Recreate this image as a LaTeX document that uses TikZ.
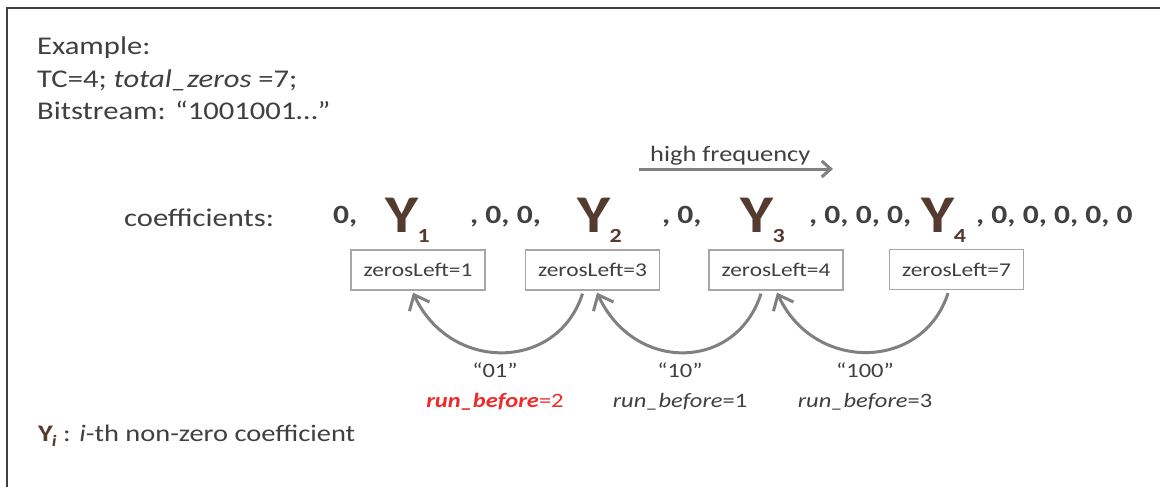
\documentclass[tikz,border=0pt]{standalone}
\usepackage{fontspec}
\setmainfont{Carlito}[FakeStretch=1.2]
\usetikzlibrary{arrows.meta}
\definecolor{txt}{HTML}{404040}
\definecolor{ybrown}{HTML}{553A30}
\definecolor{redc}{HTML}{EE2A2A}
\definecolor{linegray}{HTML}{808080}
\definecolor{boxgray}{HTML}{A6A6A6}
\definecolor{framec}{HTML}{404040}
\newcommand{\ysym}[1]{Y\kern-0.5pt\raisebox{-10pt}{\fontsize{20}{20}\selectfont #1}}
\begin{document}
\begin{tikzpicture}[x=1pt,y=-1pt,
  lbl/.style={anchor=base west, inner sep=0pt, text=txt, font=\fontsize{25.5}{30}\selectfont},
  coef/.style={anchor=base west, inner sep=0pt, text=txt, font=\bfseries\fontsize{26.3}{28}\selectfont},
  ybig/.style={anchor=base west, inner sep=0pt, text=ybrown, font=\bfseries\fontsize{53}{53}\selectfont},
  zbox/.style={draw=boxgray, line width=1.3pt, minimum width=134pt, minimum height=40pt, inner sep=0pt, text=txt, font=\fontsize{19.5}{20}\selectfont},
  arcline/.style={draw=linegray, line width=3pt, -{Straight Barb[length=13pt,width=22pt,line width=3pt]}},
  code/.style={anchor=base, inner sep=0pt, text=txt, font=\fontsize{20.4}{22}\selectfont},
  frameline/.style={draw=framec, line width=1.5pt}]
\useasboundingbox (0,0) rectangle (1160,487);
\fill[white] (0,0) rectangle (1160,487);
\draw[frameline] (7,487) -- (7,8) -- (1160,8);

% header text
\node[lbl] (ex) at (37,55) {Example:};
\node[lbl] (tc) at (37,87.5) {TC=4; \textit{total\_zeros} =7;};
\node[lbl] (bs) at (37,120) {Bitstream: “1001001…”};

% high frequency arrow
\node[anchor=base west, inner sep=0pt, text=txt, font=\fontsize{22}{22}\selectfont] (hf) at (650,161) {high frequency};
\coordinate (hfa) at (639,169);
\coordinate (hfb) at (833,169);
\draw[draw=linegray, line width=3pt, -{Straight Barb[length=9pt,width=16pt,line width=3pt]}] (hfa) -- (hfb);

% coefficients row
\node[lbl] (cl) at (124,226) {coefficients:};
\node[coef] (c0) at (333,223) {0,};
\node[ybig] (y1) at (385,232) {\ysym{1}};
\node[coef] (c1) at (470,223) {, 0, 0,};
\node[ybig] (y2) at (577,232) {\ysym{2}};
\node[coef] (c2) at (662,223) {, 0,};
\node[ybig] (y3) at (740,232) {\ysym{3}};
\node[coef] (c3) at (809,223) {, 0, 0, 0,};
\node[ybig] (y4) at (921,232) {\ysym{4}};
\node[coef] (c4) at (976,223) {, 0, 0, 0, 0, 0};

% zerosLeft boxes
\node[zbox] (b1) at (418,270) {zerosLeft=1};
\node[zbox] (b2) at (592.5,270) {zerosLeft=3};
\node[zbox] (b3) at (776,270) {zerosLeft=4};
\node[zbox] (b4) at (956.5,269.5) {zerosLeft=7};

% arcs
\draw[arcline] ([xshift=-10pt,yshift=-3pt]b2.south) .. controls +(-25,78) and +(37,80) .. ([xshift=-5pt,yshift=-2pt]b1.south);
\draw[arcline] ([xshift=-15pt,yshift=-3pt]b3.south) .. controls +(-25,78) and +(37,80) .. ([xshift=4.5pt,yshift=-2pt]b2.south);
\draw[arcline] ([xshift=-8.5pt,yshift=-3pt]b4.south) .. controls +(-25,78) and +(37,80) .. ([xshift=1pt,yshift=-2pt]b3.south);

% codes
\node[code] (k1) at (495,377) {“01”};
\node[code] (k2) at (680,377) {“10”};
\node[code] (k3) at (865,377) {“100”};
\node[code, text=redc] (r1) at (495,407) {{\bfseries\itshape run\_before}=2};
\node[code] (r2) at (680,407) {\textit{run\_before}=1};
\node[code] (r3) at (865,407) {\textit{run\_before}=3};

% legend
\node[lbl, font=\fontsize{23.7}{28}\selectfont] (leg) at (38,441) {{\color{ybrown}\bfseries Y\kern-1pt\raisebox{-5pt}{\fontsize{16}{16}\selectfont\itshape i}} : \textit{i}-th non-zero coefficient};
\end{tikzpicture}
\end{document}
